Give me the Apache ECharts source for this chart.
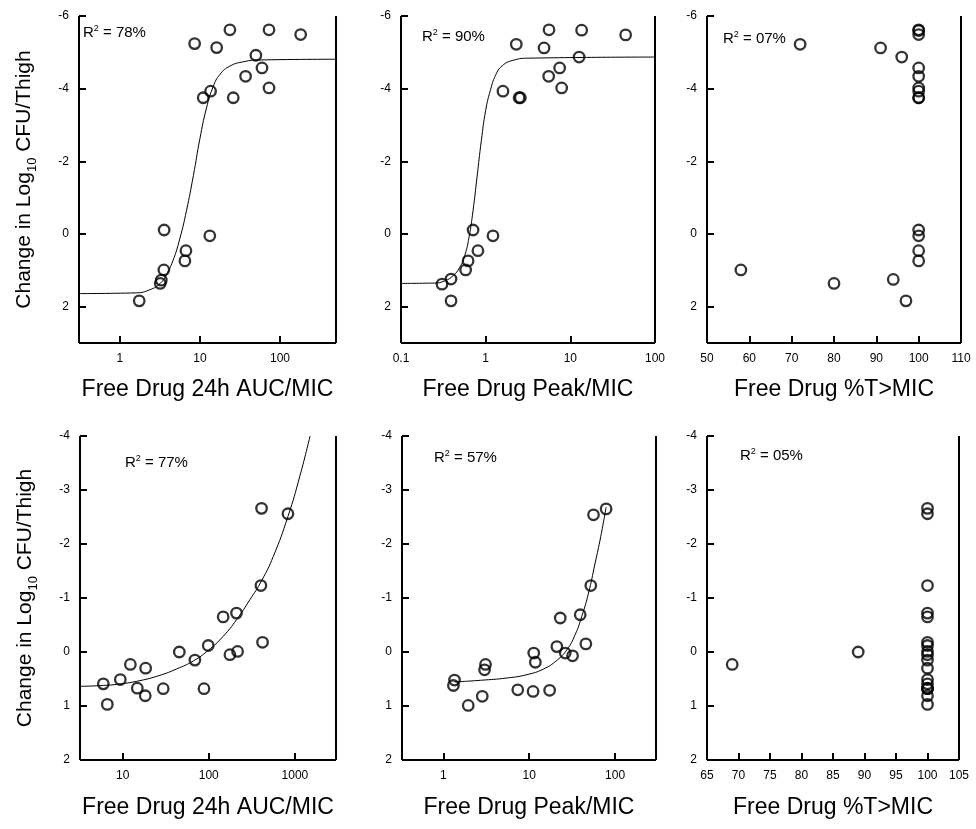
<!DOCTYPE html>
<html><head><meta charset="utf-8">
<script src="https://cdn.jsdelivr.net/npm/echarts@6/dist/echarts.min.js"></script>
<style>html,body{margin:0;padding:0;background:#fff}#c{width:976px;height:829px}</style>
</head><body><div id="c"></div>
<script>
// ---------- Data ----------
// Top row: change in log10 CFU/thigh vs free drug index
const aucTopX  = [1.75, 3.2, 3.3, 3.55, 3.58, 6.7, 6.5, 13.3, 8.6, 11, 13.6, 16.2, 23.7, 26.1, 37.2, 50, 59.6, 72.9, 72.9, 181];
const aucTopY  = [1.84, 1.36, 1.27, 0.99, -0.11, 0.46, 0.74, 0.05, -5.24, -3.75, -3.93, -5.13, -5.62, -3.75, -4.34, -4.92, -4.57, -5.62, -4.02, -5.49];
const peakTopX = [0.305, 0.39, 0.39, 0.58, 0.62, 0.71, 0.81, 1.22, 1.6, 2.3, 2.48, 2.57, 4.89, 5.6, 5.55, 7.48, 7.9, 12.7, 13.6, 45];
const peakTopY = [1.38, 1.24, 1.84, 0.99, 0.74, -0.11, 0.46, 0.05, -3.93, -5.22, -3.75, -3.75, -5.12, -5.62, -4.34, -4.57, -4.02, -4.87, -5.61, -5.48];
const timeTopX = [58, 72, 80, 91, 94, 96, 97, 100, 100, 100, 100, 100, 100, 100, 100, 100, 100, 100, 100, 100];
const timeTopY = [0.99, -5.22, 1.36, -5.12, 1.25, -4.87, 1.84, -5.62, -5.49, -4.57, -4.34, -4.02, -3.93, -3.75, -3.75, -0.11, 0.05, 0.46, 0.74, -5.60];
// Top row fitted curves (sampled from the figure)
const aucTopCurveX  = [0.31, 1.6, 2.4, 3.2, 3.8, 4.6, 5.6, 6.8, 8.3, 10, 12.1, 14.7, 17.8, 23.7, 35, 56, 500];
const aucTopCurveY  = [1.64, 1.62, 1.53, 1.36, 1.12, 0.74, 0.14, -0.64, -1.61, -2.62, -3.47, -4.06, -4.39, -4.62, -4.74, -4.79, -4.81];
const peakTopCurveX = [0.1, 0.25, 0.328, 0.411, 0.493, 0.565, 0.636, 0.709, 0.79, 0.889, 1.0, 1.135, 1.31, 1.57, 2.1, 3.3, 100];
const peakTopCurveY = [1.36, 1.35, 1.29, 1.15, 0.92, 0.60, 0.09, -0.64, -1.56, -2.57, -3.40, -3.95, -4.37, -4.63, -4.78, -4.84, -4.87];

// Bottom row
const aucBotX  = [5.97, 6.64, 9.4, 12.3, 14.8, 18.5, 18.3, 29.6, 45.5, 69, 88, 98.6, 147, 176, 210, 216, 410, 403, 421, 830];
const aucBotY  = [0.59, 0.97, 0.51, 0.23, 0.67, 0.30, 0.81, 0.68, 0.0, 0.15, 0.68, -0.12, -0.65, 0.05, -0.72, -0.01, -2.66, -1.23, -0.18, -2.56];
const peakBotX = [1.35, 1.31, 1.95, 2.84, 3.1, 3.02, 7.36, 11.3, 11.8, 11.1, 17.3, 21.0, 23.0, 26.3, 32.0, 39.3, 45.7, 52.2, 56.1, 78.7];
const peakBotY = [0.52, 0.62, 0.99, 0.82, 0.23, 0.33, 0.70, 0.02, 0.19, 0.73, 0.71, -0.10, -0.63, 0.02, 0.07, -0.69, -0.15, -1.23, -2.54, -2.65];
const timeBotX = [69, 89, 100, 100, 100, 100, 100, 100, 100, 100, 100, 100, 100, 100, 100, 100, 100, 100, 100, 100];
const timeBotY = [0.23, 0.0, 0.59, 0.97, 0.51, 0.67, 0.30, 0.81, 0.68, 0.15, 0.68, -0.12, -0.65, 0.05, -0.72, -0.01, -2.66, -1.23, -0.18, -2.56];
const aucBotCurveX  = [3.2, 5.46, 9.3, 15.9, 27.1, 42.3, 66.1, 98.6, 147, 210, 300, 410, 561, 830, 1143, 1500];
const aucBotCurveY  = [0.635, 0.623, 0.592, 0.530, 0.432, 0.314, 0.166, -0.031, -0.290, -0.598, -0.968, -1.319, -1.769, -2.509, -3.26, -4.0];
const peakBotCurveX = [1.35, 2.71, 5.53, 9.44, 14.7, 21.0, 27.5, 34.3, 41.0, 49.1, 58.6, 68.2, 78.7];
const peakBotCurveY = [0.555, 0.524, 0.481, 0.419, 0.314, 0.154, -0.043, -0.321, -0.660, -1.091, -1.646, -2.139, -2.682];

// Labels
const r2Labels = ['78%', '90%', '07%', '77%', '57%', '05%'];
const xTitles = ['Free Drug 24h AUC/MIC', 'Free Drug Peak/MIC', 'Free Drug %T>MIC'];
const yTitle = '{m|Change in Log}{s|10}{m| CFU/Thigh}';

// ---------- Layout ----------
const grids = [
  {left: 79,  top: 16,  width: 257, height: 327},
  {left: 401, top: 16,  width: 254, height: 327},
  {left: 707, top: 16,  width: 254, height: 327},
  {left: 80,  top: 436, width: 256, height: 324},
  {left: 402, top: 436, width: 254, height: 324},
  {left: 707, top: 436, width: 252, height: 324}
];
const xScales = [
  {type: 'log', min: 0.31, max: 500, hideEnds: true},
  {type: 'log', min: 0.1, max: 100, hideEnds: false},
  {type: 'value', min: 50, max: 110, interval: 10},
  {type: 'log', min: 3.2, max: 3000, hideEnds: true},
  {type: 'log', min: 0.33, max: 300, hideEnds: true},
  {type: 'value', min: 65, max: 105, interval: 5}
];
const yTop = {min: -6, max: 3, interval: 2};
const yBot = {min: -4, max: 2, interval: 1};

const FONT = 'Liberation Sans, Arial, sans-serif';
const zip = (xs, ys) => xs.map((x, i) => [x, ys[i]]);

const mkTick = () => ({show: true, inside: true, length: 7, lineStyle: {color: '#000', width: 2}});
const mkLabel = () => ({show: true, color: '#000', fontFamily: FONT, fontSize: 12, margin: 10,
  formatter: v => String(Math.round(v * 1000) / 1000)});

const xAxis = xScales.map((s, i) => {
  const a = {gridIndex: i, type: s.type, min: s.min, max: s.max,
    axisLine: {show: false, onZero: false}, axisTick: mkTick(), splitLine: {show: false}, axisLabel: mkLabel(),
    name: xTitles[i % 3], nameLocation: 'middle', nameGap: i < 3 ? 35 : 36,
    nameTextStyle: {color: '#000', fontFamily: FONT, fontSize: 23}};
  if (s.type === 'log') a.logBase = 10;
  if (s.interval) a.interval = s.interval;
  if (s.hideEnds) { a.axisLabel.showMinLabel = false; a.axisLabel.showMaxLabel = false; }
  return a;
});

const yAxis = grids.map((g, i) => {
  const s = i < 3 ? yTop : yBot;
  const a = {gridIndex: i, type: 'value', inverse: true, min: s.min, max: s.max, interval: s.interval,
    axisLine: {show: false, onZero: false}, axisTick: mkTick(), splitLine: {show: false}, axisLabel: mkLabel()};
  if (i < 3) a.axisLabel.showMaxLabel = false;
  if (i === 0 || i === 3) {
    a.name = yTitle; a.nameLocation = 'middle'; a.nameRotate = 90; a.nameGap = 42;
    a.nameTextStyle = {color: '#000', fontFamily: FONT, fontSize: 21,
      rich: {m: {color: '#000', fontFamily: FONT, fontSize: 21, lineHeight: 23, verticalAlign: 'top'},
             s: {color: '#000', fontFamily: FONT, fontSize: 13, lineHeight: 13, verticalAlign: 'top', padding: [12, 0, 0, 0]}}};
  }
  return a;
});

const pointSets = [
  zip(aucTopX, aucTopY), zip(peakTopX, peakTopY), zip(timeTopX, timeTopY),
  zip(aucBotX, aucBotY), zip(peakBotX, peakBotY), zip(timeBotX, timeBotY)
];
const curveSets = [
  zip(aucTopCurveX, aucTopCurveY), zip(peakTopCurveX, peakTopCurveY), null,
  zip(aucBotCurveX, aucBotCurveY), zip(peakBotCurveX, peakBotCurveY), null
];

const series = [];
curveSets.forEach((c, i) => {
  if (!c) return;
  series.push({type: 'line', xAxisIndex: i, yAxisIndex: i, data: c, symbol: 'none',
    smooth: 0.5, clip: true, lineStyle: {color: '#000', width: 1}});
});
pointSets.forEach((p, i) => {
  const ys = i < 3 ? yTop : yBot;
  series.push({type: 'scatter', xAxisIndex: i, yAxisIndex: i, data: p, symbol: 'circle', clip: false,
    symbolSize: 10.5, itemStyle: {color: 'rgba(0,0,0,0)', borderColor: '#000', borderWidth: 2.3}, z: 5,
    // plot frame: left axis line, bottom axis line and right border (no top border in the original)
    markLine: {silent: true, symbol: ['none', 'none'], label: {show: false}, animation: false,
      lineStyle: {color: '#000', width: 2, type: 'solid'},
      data: [{xAxis: xScales[i].min}, {xAxis: xScales[i].max}, {yAxis: ys.max}]}});
});

// R² annotations as title components (rich text with superscript)
const r2Pos = [[83, 24], [422, 28], [723, 30], [125, 454], [434, 449], [740, 447]];
const title = r2Pos.map((p, i) => ({
  text: '{b|R}{s|2}{b| = ' + r2Labels[i] + '}', left: p[0], top: p[1], padding: 0,
  textStyle: {fontWeight: 'normal', rich: {
    b: {color: '#000', fontFamily: FONT, fontSize: 15, fontWeight: 'normal', lineHeight: 16, verticalAlign: 'bottom'},
    s: {color: '#000', fontFamily: FONT, fontSize: 9, fontWeight: 'normal', lineHeight: 9, verticalAlign: 'top'}}}
}));

const chart = echarts.init(document.getElementById('c'));
chart.setOption({
  animation: false,
  backgroundColor: '#fff',
  title,
  grid: grids,
  xAxis, yAxis, series
});
</script>
</body></html>
